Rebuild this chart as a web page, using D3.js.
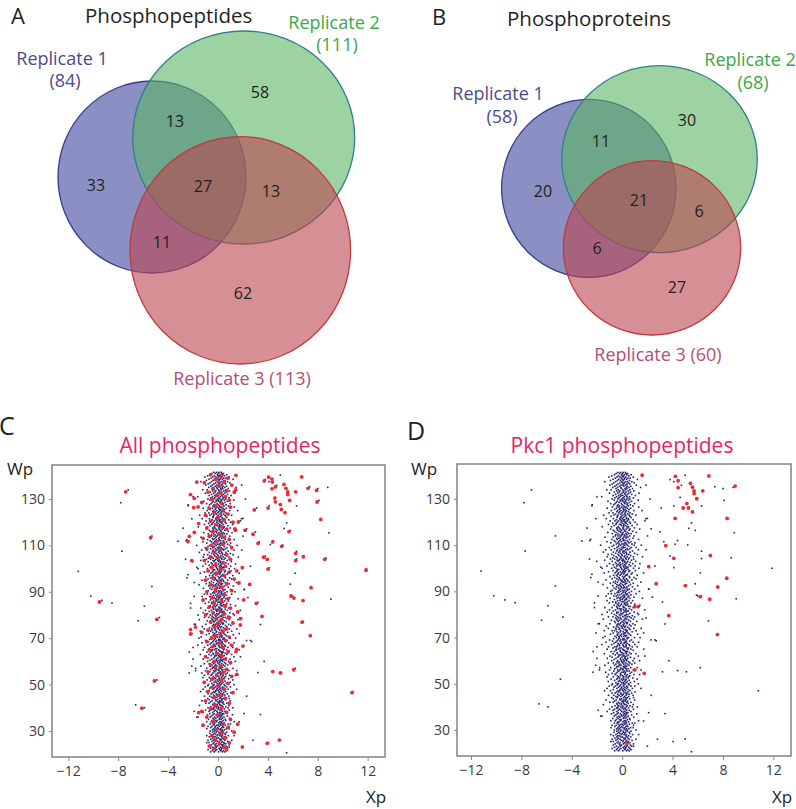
<!DOCTYPE html>
<html><head><meta charset="utf-8">
<script src="https://cdn.jsdelivr.net/npm/d3@7"></script>
<style>body{margin:0;background:#fff}svg{display:block}text{font-family:"Open Sans",sans-serif}</style>
</head><body>
<svg id="fig" width="796" height="809"></svg>
<script>
// ---------------- DATA ----------------
const setNames = ["Replicate 1", "Replicate 2", "Replicate 3"];
const peptideTotals = [84, 111, 113];
const proteinTotals = [58, 68, 60];
const regionKeys = ["1", "2", "3", "12", "13", "23", "123"];
const peptideRegions = [33, 58, 62, 13, 11, 13, 27];
const proteinRegions = [20, 30, 27, 11, 6, 6, 21];

const xTicks = [-12, -8, -4, 0, 4, 8, 12];
const yTicks = [30, 50, 70, 90, 110, 130];

// dense central column of all phosphopeptides: [Wp, [Xp...]]
const columnRows = [
[141.5,[-0.12,0.25,-0.35,0.08]],
[141,[0.31,-0.22,0.02,-0.48,0.44]],
[140.5,[-0.05,0.18,-0.61,0.37,0.71]],
[140,[0.12,-0.29,0.53,-0.83,-0.01]],
[139.5,[-0.41,0.07,0.29,-0.17,0.88,-1.05]],
[139,[0.46,-0.08,-0.55,0.21,0.64]],
[138.5,[-0.27,0.35,0.01,-0.72,0.15,1.21]],
[138,[0.09,-0.38,0.58,-0.14,-0.93]],
[137.5,[-0.51,0.26,-0.03,0.77,0.42,-1.38]],
[137,[0.17,-0.19,0.49,-0.66,0.03,0.95]],
[136.5,[-0.33,0.11,-0.79,0.36,0.6]],
[136,[0.05,-0.46,0.28,-0.09,1.12,-0.98]],
[135.5,[-0.21,0.41,-0.58,0.14,0.69]],
[135,[0.34,-0.11,-0.37,0.55,-0.74,1.46]],
[134.5,[-0.06,0.22,-0.49,0.82,0.38]],
[134,[0.27,-0.31,0.04,-0.87,0.61,-1.22]],
[133.5,[-0.43,0.13,0.47,-0.18,0.92]],
[133,[0.08,-0.24,0.66,-0.62,0.31]],
[132.5,[-0.35,0.19,-0.02,0.53,-1.01,1.34]],
[132,[0.43,-0.14,-0.52,0.24,0.76]],
[131.5,[-0.09,0.32,-0.71,0.05,-0.28,1.05]],
[131,[0.18,-0.44,0.59,-0.16,0.37,-1.62]],
[130.5,[-0.26,0.07,0.45,-0.57,0.89]],
[130,[0.36,-0.03,-0.34,0.16,-0.81,0.62]],
[129.5,[-0.15,0.28,-0.63,0.51,0.02,1.27]],
[129,[0.06,-0.39,0.23,-0.12,0.74,-1.13]],
[128.5,[-0.47,0.15,0.57,-0.25,0.33]],
[128,[0.21,-0.07,-0.56,0.42,-0.91,0.98]],
[127.5,[-0.32,0.39,0.01,-0.68,0.65,-2.38]],
[127,[0.12,-0.21,0.48,-0.4,0.84]],
[126.5,[-0.04,0.3,-0.77,0.19,-0.3,1.31]],
[126,[0.4,-0.17,-0.45,0.07,0.67,-1.19]],
[125.5,[-0.23,0.24,-0.6,0.54,0.11]],
[125,[0.14,-0.36,0.35,-0.1,0.93,-0.86,1.58]],
[124.5,[-0.42,0.06,0.5,-0.2,0.27]],
[124,[0.25,-0.27,-0.02,0.63,-0.73,-1.04]],
[123.5,[-0.13,0.44,-0.52,0.17,0.8]],
[123,[0.03,-0.33,0.29,-0.65,0.56,1.09,-1.47]],
[122.5,[-0.38,0.2,0.61,-0.06,-0.89]],
[122,[0.33,-0.12,-0.41,0.1,0.71]],
[121.5,[-0.19,0.37,-0.69,0.48,0.0,-1.26,1.88]],
[121,[0.09,-0.46,0.22,-0.14,0.87,0.52]],
[120.5,[-0.29,0.13,-0.58,0.4,-0.03,-0.95]],
[120,[0.2,-0.09,0.58,-0.37,1.02,0.29]],
[119.5,[-0.45,0.31,0.04,-0.75,0.66]],
[119,[0.15,-0.22,-0.5,0.43,-0.11,1.18,-1.09]],
[118.5,[-0.06,0.26,-0.64,0.09,0.79]],
[118,[0.38,-0.31,0.12,-0.85,0.5,-1.58]],
[117.5,[-0.24,0.05,0.45,-0.43,0.97]],
[117,[0.11,-0.4,0.33,-0.16,0.63,-0.92,1.39]],
[116.5,[-0.36,0.18,-0.04,0.55,-0.7]],
[116,[0.27,-0.15,-0.61,0.24,0.83,-0.26]],
[115.5,[-0.1,0.42,-0.48,0.07,-1.14,1.12]],
[115,[0.02,-0.34,0.52,-0.78,0.31,0.71]],
[114.5,[-0.5,0.16,0.37,-0.21,-0.01]],
[114,[0.23,-0.08,-0.55,0.6,-0.33,0.94,2.01]],
[113.5,[-0.17,0.35,-0.72,0.13,0.46,-1.36]],
[113,[0.3,-0.26,0.05,-0.44,0.86]],
[112.5,[-0.39,0.1,0.58,-0.12,-0.83,1.3]],
[112,[0.07,-0.2,0.4,-0.63,0.21,-2.57]],
[111.5,[-0.28,0.47,-0.07,-0.52,0.69,-1.2]],
[111,[0.19,-0.35,0.28,-0.9,0.54,1.01]],
[110.5,[-0.02,0.33,-0.46,0.11,-0.24,0.78]],
[110,[0.41,-0.13,-0.67,0.2,0.96,-1.71,1.52]],
[109.5,[-0.31,0.08,0.51,-0.28,-0.8]],
[109,[0.12,-0.42,0.25,-0.05,0.72,1.11,-1.02]],
[108.5,[-0.21,0.39,-0.6,0.03,0.6]],
[108,[0.28,-0.09,-0.38,0.46,-0.88,-1.31,1.29]],
[107.5,[-0.44,0.17,0.08,-0.19,0.82]],
[107,[0.05,-0.27,0.62,-0.7,0.3,-1.49]],
[106.5,[-0.14,0.34,-0.51,0.15,0.99]],
[106,[0.37,-0.04,-0.32,0.53,-0.83,1.21,-1.12]],
[105.5,[-0.25,0.23,-0.66,0.0,0.68]],
[105,[0.16,-0.48,0.4,-0.13,0.89,-1.18,1.62]],
[104.5,[-0.07,0.27,-0.39,0.57,-0.76]],
[104,[0.31,-0.18,0.06,-0.6,0.49,0.91,-0.93]],
[103.5,[-0.4,0.12,-0.02,0.74,-0.26,-1.39]],
[103,[0.22,-0.33,0.44,-0.79,0.05,1.07,-2.02]],
[102.5,[-0.16,0.38,-0.54,0.19,0.63]],
[102,[0.04,-0.23,0.3,-0.47,0.84,-1.0,1.41]],
[101.5,[-0.34,0.2,0.55,-0.11,-0.71]],
[101,[0.26,-0.43,0.09,-0.2,0.67,1.02,-1.21]],
[100.5,[-0.12,0.45,-0.62,0.14,0.36]],
[100,[0.35,-0.06,-0.49,0.23,0.9,-0.84,1.33,-1.59]],
[99.5,[-0.27,0.16,0.48,-0.36,-0.03]],
[99,[0.1,-0.4,0.29,-0.73,0.6,1.04]],
[98.5,[-0.46,0.07,0.53,-0.15,0.21,-1.08]],
[98,[0.18,-0.29,-0.01,0.8,-0.57,-1.42,1.7]],
[97.5,[-0.08,0.41,-0.35,0.12,0.72]],
[97,[0.29,-0.17,-0.68,0.37,-0.45,1.19]],
[96.5,[-0.37,0.03,0.22,-0.97,0.56]],
[96,[0.13,-0.24,0.6,-0.6,0.93,-2.49]],
[95.5,[-0.2,0.32,-0.43,0.09,-0.8,1.1]],
[95,[0.42,-0.1,-0.29,0.2,0.77,-1.29]],
[94.5,[-0.53,0.25,0.44,-0.05,0.01]],
[94,[0.07,-0.37,0.15,-0.69,0.58,1.49]],
[93.5,[-0.11,0.36,-0.55,0.27,0.88,-0.94]],
[93,[0.24,-0.21,0.02,-0.42,0.66,-1.52]],
[92.5,[-0.32,0.09,0.51,-0.17,-0.74,1.23]],
[92,[0.16,-0.45,0.38,-0.08,0.82]],
[91.5,[-0.03,0.29,-0.64,0.13,-0.28,-1.17]],
[91,[0.39,-0.15,-0.5,0.56,0.99,2.12]],
[90.5,[-0.24,0.2,-0.79,0.04,0.45]],
[90,[0.11,-0.33,0.31,-0.12,0.74,1.37,-0.91]],
[89.5,[-0.41,0.06,0.57,-0.26,0.25]],
[89,[0.28,-0.04,-0.58,0.43,-0.86,1.09,-1.1]],
[88.5,[-0.18,0.37,-0.36,0.14,0.69]],
[88,[0.05,-0.47,0.21,-0.67,0.52,-1.27,-1.91]],
[87.5,[-0.3,0.16,0.46,-0.09,0.94]],
[87,[0.33,-0.2,-0.41,0.07,0.62,-0.96,1.61]],
[86.5,[-0.13,0.24,-0.61,0.35,0.0]],
[86,[0.19,-0.35,0.54,-0.16,0.83,-1.2]],
[85.5,[-0.49,0.1,-0.01,0.4,-0.75]],
[85,[0.23,-0.26,0.3,-0.52,0.71,-1.02,-2.2]],
[84.5,[-0.06,0.44,-0.38,0.17,1.0]],
[84,[0.36,-0.12,-0.63,0.26,-0.3,1.4]],
[83.5,[-0.22,0.08,0.5,-0.44,0.64]],
[83,[0.1,-0.39,0.19,-0.8,0.87,-1.38]],
[82.5,[-0.35,0.31,-0.05,0.58,-0.19]],
[82,[0.27,-0.14,-0.53,0.11,0.75,-1.01,1.79]],
[81.5,[-0.09,0.39,-0.7,0.22,0.48]],
[81,[0.14,-0.3,0.33,-0.42,0.95,-1.19]],
[80.5,[-0.43,0.05,0.6,-0.1,-0.84,1.21]],
[80,[0.32,-0.23,-0.03,0.47,-0.62,1.3,-1.6]],
[79.5,[-0.16,0.18,-0.48,0.28,0.8]],
[79,[0.06,-0.37,0.42,-0.73,0.58,-1.09,0.99]],
[78.5,[-0.28,0.26,-0.14,0.71,-0.52]],
[78,[0.2,-0.07,-0.44,0.37,0.89,-1.5,1.6]],
[77.5,[-0.39,0.13,0.52,-0.21,-0.86]],
[77,[0.25,-0.31,0.02,-0.6,0.66,1.16]],
[76.5,[-0.1,0.34,-0.53,0.09,0.43]],
[76,[0.38,-0.17,-0.33,0.18,-0.97,0.86,-1.81]],
[75.5,[-0.24,0.07,0.59,-0.4,1.03]],
[75,[0.12,-0.45,0.27,-0.08,0.7,-1.26]],
[74.5,[-0.32,0.21,-0.68,0.44,0.0]],
[74,[0.03,-0.19,0.55,-0.5,0.92,-1.1,1.51]],
[73.5,[-0.47,0.3,0.14,-0.25,0.63]],
[73,[0.29,-0.11,-0.6,0.4,-0.79,1.1,-1.42]],
[72.5,[-0.15,0.36,-0.41,0.08,0.79]],
[72,[0.17,-0.28,0.47,-0.71,0.24,-2.08]],
[71.5,[-0.36,0.11,-0.05,0.57,-0.93,1.22]],
[71,[0.22,-0.4,0.35,-0.15,0.68]],
[70.5,[-0.05,0.27,-0.57,0.12,-0.26,-1.35]],
[70,[0.41,-0.21,-0.44,0.5,0.98,1.42,-1.52]],
[69.5,[-0.26,0.15,0.39,-0.67,0.05]],
[69,[0.08,-0.34,0.22,-0.11,0.74,-1.0,2.29]],
[68.5,[-0.42,0.33,-0.18,0.61,-0.77]],
[68,[0.18,-0.06,-0.52,0.29,0.87,-1.29,1.3]],
[67.5,[-0.12,0.4,-0.33,0.15,-0.63]],
[67,[0.3,-0.25,0.04,-0.82,0.55,1.0,-1.61]],
[66.5,[-0.38,0.09,0.6,-0.2,0.32]],
[66,[0.14,-0.43,0.26,-0.58,0.8,-1.08,1.19]],
[65.5,[-0.2,0.37,-0.09,0.5,-0.72]],
[65,[0.05,-0.3,0.45,-0.47,0.69,-1.19,1.71]],
[64.5,[-0.49,0.19,0.11,-0.14,0.88]],
[64,[0.26,-0.16,-0.62,0.34,-0.88,0.42]],
[63.5,[-0.07,0.31,-0.4,0.58,0.02]],
[63,[0.33,-0.37,0.13,-0.72,0.71,1.09,-1.41]],
[62.5,[-0.23,0.06,0.5,-0.11,-0.55]],
[62,[0.1,-0.27,0.38,-0.97,0.2,1.28]],
[61.5,[-0.34,0.24,-0.02,0.65,-0.8]],
[61,[0.21,-0.12,-0.49,0.44,0.96,-1.18,-2.0]],
[60.5,[-0.14,0.35,-0.64,0.08,0.28]],
[60,[0.37,-0.05,-0.36,0.17,0.86,-0.83,1.38]],
[59.5,[-0.44,0.14,0.52,-0.23,-0.03]],
[59,[0.04,-0.32,0.29,-0.7,0.61,1.0,-1.1]],
[58.5,[-0.18,0.42,-0.5,0.13,0.77]],
[58,[0.27,-0.24,-0.08,0.54,-0.62,-1.38]],
[57.5,[-0.31,0.1,0.36,-0.4,0.2]],
[57,[0.15,-0.46,0.23,-0.13,0.68,-0.9,1.2,-1.79]],
[56.5,[-0.09,0.3,-0.59,0.48,0.04]],
[56,[0.34,-0.18,-0.35,0.07,0.88,-1.0,1.5]],
[55.5,[-0.27,0.17,0.56,-0.66,0.39]],
[55,[0.09,-0.39,0.26,-0.02,0.75,-1.3,-2.31]],
[54.5,[-0.48,0.22,-0.15,0.63,-0.8]],
[54,[0.2,-0.1,-0.56,0.41,0.93,-1.09,1.39]],
[53.5,[-0.13,0.35,-0.38,0.04,0.6]],
[53,[0.3,-0.28,0.12,-0.7,0.52,-1.2]],
[52.5,[-0.36,0.08,0.47,-0.2,0.85]],
[52,[0.13,-0.43,0.31,-0.06,-0.88,1.19]],
[51.5,[-0.22,0.26,-0.6,0.56,0.02]],
[51,[0.4,-0.14,-0.31,0.18,0.97,-1.1]],
[50.5,[-0.05,0.3,-0.5,0.1,0.66]],
[50,[0.24,-0.37,0.06,-0.77,0.49,1.28,-0.3]],
[49.5,[-0.4,0.15,0.55,-0.12,-0.82]],
[49,[0.1,-0.2,0.37,-0.54,0.7,1.0,-1.02]],
[48.5,[-0.3,0.43,-0.04,0.22,-0.65]],
[48,[0.35,-0.09,-0.42,0.11,0.81,-1.2,1.5]],
[47.5,[-0.17,0.21,-0.7,0.5,0.0]],
[47,[0.07,-0.33,0.28,-0.19,0.62,-0.92,-1.4]],
[46.5,[-0.45,0.12,0.46,-0.28,1.03]],
[46,[0.23,-0.12,-0.55,0.36,-0.8,0.75]],
[45.5,[-0.08,0.38,-0.36,0.08,0.55]],
[45,[0.31,-0.25,0.02,-0.66,0.86,-1.08]],
[44.5,[-0.34,0.19,0.52,-0.1,-0.5]],
[44,[0.12,-0.4,0.27,-0.82,0.9,0.42]],
[43.5,[-0.19,0.33,-0.03,0.6,-0.7]],
[43,[0.27,-0.16,-0.48,0.14,0.99,-1.28]],
[42.5,[-0.02,0.25,-0.6,0.42,0.1]],
[42,[0.38,-0.3,0.07,-0.72,0.7,-0.98]],
[41.5,[-0.43,0.14,0.48,-0.22,-0.05]],
[41,[0.18,-0.08,-0.38,0.3,0.88,-1.49]],
[40.5,[-0.27,0.4,-0.57,0.02,0.63]],
[40,[0.06,-0.36,0.33,-0.12,0.81,-0.8,1.2]],
[39.5,[-0.35,0.2,0.51,-0.44,0.0]],
[39,[0.28,-0.21,-0.6,0.12,0.9,-1.0]],
[38.5,[-0.1,0.36,-0.31,0.56,-0.72]],
[38,[0.15,-0.44,0.23,-0.03,0.7,-1.2]],
[37.5,[-0.31,0.09,-0.66,0.46,0.33]],
[37,[0.36,-0.15,-0.4,0.2,-0.84,1.16]],
[36.5,[-0.06,0.29,-0.51,0.1,0.75]],
[36,[0.22,-0.26,0.48,-0.63,-0.02,-1.6]],
[35.5,[-0.4,0.14,0.36,-0.17,0.92]],
[35,[0.09,-0.32,0.25,-0.75,0.58]],
[34.5,[-0.2,0.42,-0.08,0.62,-0.47]],
[34,[0.3,-0.12,-0.55,0.16,-0.9,1.3]],
[33.5,[-0.33,0.06,0.5,-0.25,0.27]],
[33,[0.17,-0.4,0.34,-0.62,0.8,1.0]],
[32.5,[-0.09,0.23,-0.3,0.58,0.02]],
[32,[0.39,-0.2,-0.48,0.1,-0.8,0.9]],
[31.5,[-0.25,0.31,-0.03,0.45,-0.58]],
[31,[0.05,-0.35,0.22,-0.13,0.67,-0.9,0.88]],
[30.5,[-0.44,0.16,0.53,-0.24,0.34]],
[30,[0.26,-0.1,-0.62,0.38,-0.3,1.1]],
[29.5,[-0.14,0.41,-0.43,0.07,0.7]],
[29,[0.12,-0.28,0.27,-0.66,0.55]],
[28.5,[-0.37,0.2,0.6,-0.18,0.0]],
[28,[0.33,-0.06,-0.5,0.15,0.83,-0.9,1.3]],
[27.5,[-0.21,0.28,-0.34,0.5,-0.7]],
[27,[0.02,-0.42,0.37,-0.1,0.68]],
[26.5,[-0.3,0.13,0.45,-0.58,0.25]],
[26,[0.22,-0.17,-0.38,0.56,-0.8,1.1]],
[25.5,[-0.07,0.35,-0.5,0.1,0.78]],
[25,[0.3,-0.32,0.06,-0.72,0.47,-0.9]],
[24.5,[-0.4,0.18,0.5,-0.15,0.62]],
[24,[0.1,-0.24,0.3,-0.55,0.9,0.4]],
[23.5,[-0.18,0.4,-0.05,0.65,-0.7]],
[23,[0.36,-0.14,-0.45,0.2,0.75,0.9]],
[22.5,[-0.28,0.08,0.52,-0.6,0.3]],
[22,[0.15,-0.38,0.26,-0.1,0.62,-0.8]],
[21.5,[-0.45,0.22,0.44,-0.2,0.7]],
[21,[0.05,-0.3,0.35,-0.6,0.55]]
];

// scattered phosphopeptides away from the column: [Xp, Wp]
const outlierPoints = [
[-7.2,133.9],[-7.8,128.4],[-5.3,114],[-7.7,107.5],[-11.2,98.8],[-2.4,97.4],[-3.2,111.8],
[-5.3,92.3],[-10.2,88.1],[-9.3,86.3],[-8.5,85.1],[-5.9,83.8],[-6.4,77.5],[-4.7,78.9],
[-4.9,52],[-6.6,41.3],[-5.9,40],[-2.8,117.4],[-2.5,112.5],[-2.4,127.1],[-2.1,121.5],
[-2.2,83],[-1.9,76],[-2.0,66],[-2.1,58],[-1.8,56],[-1.9,38.5],[-1.7,36],[-2.3,64],
[-2.6,104],[-1.9,94],[-2.0,131],[-1.7,100.5],
[5.0,140.3],[4.1,137.5],[3.8,138.4],[7.35,135.3],[8.0,134.5],[4.7,135.9],[8.1,129.4],
[4.6,130.7],[6.3,127],[4.1,127],[3.1,126.1],[2.0,121.6],[1.8,120.6],[5.5,119.7],
[2.3,117.1],[3.0,115.8],[5.3,117.3],[5.8,116.4],[8.9,115.4],[3.3,111.5],[4.4,112],
[4.2,110.4],[5.2,110.1],[6.3,107.4],[6.3,104.2],[8.65,104.5],[3.8,105.3],[2.6,101],
[4.1,100.3],[11.9,100],[5.8,93.3],[5.9,88.4],[6.0,88.0],[9.05,86.8],[3.2,85.4],[1.9,78.5],
[3.4,75.9],[6.85,77.2],[2.6,69],[2.7,68.6],[3.7,60],[3.2,55.2],[4.4,55.7],[5.1,55.2],
[6.2,57],[10.8,47],[2.1,37.5],[3.4,37.1],[2.8,26],[4.05,25],[5.0,26.2],[5.5,20.6],
[2.0,23],[1.7,33.9],[8.8,135],[6.2,98],[2.2,130],[1.9,108],[2.1,91],[1.8,62],[2.3,45],
[1.9,136],[2.4,87.5],[1.7,72]
];

// significant phosphopeptides (red in panel C): [Xp, Wp]
const significantPoints = [
[-7.4,133.1],[-5.4,113.3],[-9.5,85.6],[-4.9,78.1],[-5.1,51.6],[-6.1,39.8],
[-1.7,137.3],[-2.2,131.9],[-1.9,130.3],[-1.95,126.3],[-1.6,126.6],[-1.55,119.4],
[-1.9,115.6],[-2.3,113.9],[-2.4,111.6],[-2.1,103.4],[-1.8,74.8],[-2.2,73.7],[-2.2,71.8],[-1.55,37.9],
[1.44,140.2],[1.42,133.9],[4.06,139.4],[4.33,138.6],[4.36,137.3],[3.71,137.8],[4.33,134.4],[4.6,135.2],
[6.71,139.5],[5.29,136.3],[5.45,134.6],[5.59,133.1],[5.59,131.9],[6.23,133.1],[7.22,134.6],[7.91,133.7],
[4.55,130.4],[4.6,128.8],[5.0,127.6],[5.75,129.4],[7.94,128.7],[4.01,126.1],[5.08,125.5],[5.37,124.1],
[2.91,125.3],[8.24,121.2],[1.63,120.1],[1.36,117.1],[2.17,116.5],[2.81,114.8],[5.69,115.9],[3.21,110.9],
[4.39,111.5],[5.11,109.6],[6.23,106.6],[6.23,103.4],[6.84,105.1],[3.66,104.9],[3.95,104],[4.01,99.8],
[8.56,104],[11.87,99.3],[1.95,100.4],[1.5,99],[1.68,93.8],[2.54,93.2],[7.46,91.8],[5.85,88.2],
[6.09,87.3],[6.82,86.2],[2.06,86.5],[3.07,85],[1.58,81.3],[1.79,78.4],[1.79,75.7],[3.53,79.4],
[6.74,76.9],[7.4,71.1],[1.5,65.2],[1.44,64.2],[2.0,66.6],[1.52,54.4],[4.39,55.6],[5.0,55],
[6.07,56.4],[10.75,46.5],[1.58,32.9],[1.95,23.1],[3.95,24.7],[4.92,26.1],
[-0.6,140.5],[0.3,140],[0.8,139],[-0.2,138.5],[0.5,137.5],[-1.1,137],[1.1,136],[0.1,135.5],
[-0.4,134.5],[0.7,133.5],[-0.8,133],[0.2,132.5],[1.3,133],[-0.1,131.5],[0.6,131],[-0.5,130],
[0.9,129.5],[-1.3,128.5],[0.3,128],[-0.2,127],[1.0,126.5],[-0.7,126],[0.4,125],[-0.3,124],
[0.8,123.5],[-1.0,123],[0.0,122],[0.5,121],[-0.6,120.5],[1.2,120],[-0.2,119],[0.3,118],
[-0.9,117.5],[0.7,117],[-0.4,116],[1.4,116.5],[0.1,115],[-0.7,114],[0.5,113.5],[-1.2,113],
[0.9,112.5],[-0.1,111.5],[0.4,110.5],[-0.5,110],[1.1,109],[-0.9,108.5],[0.2,108],[-0.3,107],
[0.7,106],[-0.6,105],[0.0,104.5],[1.0,104],[-1.1,103.5],[0.4,102.5],[-0.2,101.5],[0.6,101],
[-0.5,100.5],[0.2,100],[-0.8,99],[0.9,98.5],[-0.1,98],[0.5,97],[-0.4,96],[1.3,95.5],
[-1.0,95],[0.1,94],[0.7,93.5],[-0.6,93],[0.3,92],[-0.2,91],[1.1,90.5],[-0.9,90],
[0.5,89],[0.0,88],[-0.5,87.5],[0.8,87],[-1.2,86.5],[0.3,86],[-0.3,85],[0.6,84],
[-0.7,83.5],[1.0,83],[0.1,82],[-0.4,81],[0.5,80.5],[-1.0,80],[0.9,79],[-0.1,78.5],
[0.3,78],[-0.6,77],[1.2,76.5],[0.0,76],[-0.3,75],[0.7,74],[-0.8,73.5],[0.4,73],
[-1.3,72.5],[0.2,72],[-0.2,71],[0.9,70.5],[-0.5,70],[0.6,69],[-0.9,68.5],[0.1,68],
[1.1,67],[-0.4,66.5],[0.4,66],[-0.7,65],[0.8,64],[-0.1,63.5],[0.3,62.5],[-1.0,62],
[0.6,61],[-0.3,60],[1.0,59.5],[-0.6,58.5],[0.2,58],[-0.2,57],[0.7,56.5],[-0.8,55.5],
[0.4,55],[-0.1,54],[1.1,53.5],[-0.5,52.5],[0.3,52],[-1.1,51],[0.8,50.5],[0.0,49.5],
[-0.4,48.5],[0.5,48],[-0.8,47],[1.2,46.5],[0.1,45.5],[-0.3,44.5],[0.6,44],[-1.0,43],
[0.9,42],[-0.2,41],[0.3,40],[-0.6,39.5],[-1.3,38.5],[0.7,38],[0.0,37],[-0.9,36],
[1.0,35],[-0.4,34],[0.4,33],[-1.2,32.5],[0.8,31.5],[-0.1,30.5],[0.3,29],[1.3,29.5],
[-0.5,28],[0.6,27],[-0.2,26],[0.9,25],[0.1,24.5],[-0.7,23.5],[0.5,23],[-0.3,22.5],[0.7,22]
];

// Pkc1 phosphopeptides (red in panel D): [Xp, Wp]
const pkc1Points = [
[1.59,140.3],[4.23,139.8],[4.44,137.9],[4.44,134.9],[6.88,140],[8.97,135.6],[5.42,136.8],
[5.58,135.1],[5.71,133.5],[5.71,132.3],[6.4,133.5],[5.92,130.1],[5.13,128],[4.84,126.1],
[5.26,126.1],[5.58,124.4],[4.21,121.6],[8.33,121.6],[3.46,109.8],[4.1,104.3],[7.0,105.5],
[2.11,100.7],[2.7,93.3],[5.02,92.5],[8.3,95.7],[7.59,91.9],[6.21,87.7],[6.95,86.6],
[3.7,79.5],[7.56,71.3],[1.0,83.4],[1.27,83.4],[1.0,56],[1.75,54.5],[0.37,24.2]
];

// ---------------- DRAW ----------------
const svg = d3.select("#fig");
svg.append("rect").attr("width", 796).attr("height", 809).attr("fill", "#fff");

const setColors = {
  fill: ["#3e469d", "#5bb664", "#bb444e"],
  stroke: ["#3a3a90", "#2f7f8c", "#c0393f"],
  label: ["#4d4b8a", "#3aa847", "#b34f76"]
};

function drawVenn(cfg) {
  const g = svg.append("g");
  cfg.ellipses.forEach((e, i) => {
    g.append("ellipse").attr("cx", e[0]).attr("cy", e[1]).attr("rx", e[2]).attr("ry", e[3])
      .attr("fill", setColors.fill[i]).attr("fill-opacity", 0.6)
      .attr("stroke", setColors.stroke[i]).attr("stroke-width", 1.3);
  });
  cfg.regions.forEach((v, i) => {
    const p = cfg.regionPos[regionKeys[i]];
    g.append("text").attr("x", p[0]).attr("y", p[1]).attr("text-anchor", "middle")
      .attr("dominant-baseline", "central").attr("font-size", 16).attr("fill", "#231f20").text(v);
  });
  cfg.totals.forEach((t, i) => {
    const lp = cfg.labelPos[i];
    const tx = g.append("text").attr("font-size", 18).attr("fill", setColors.label[i]).attr("text-anchor", "middle");
    if (lp.length === 2) {
      tx.attr("x", lp[0]).attr("y", lp[1]).text(setNames[i] + " (" + t + ")");
    } else {
      tx.append("tspan").attr("x", lp[0]).attr("y", lp[1]).text(setNames[i]);
      tx.append("tspan").attr("x", lp[2]).attr("y", lp[3]).text("(" + t + ")");
    }
  });
  g.append("text").attr("x", cfg.letter[0]).attr("y", cfg.letter[1]).attr("font-size", 22).attr("fill", "#231f20").text(cfg.letter[2]);
  g.append("text").attr("x", cfg.title[0]).attr("y", cfg.title[1]).attr("font-size", 20.5).attr("fill", "#231f20").text(cfg.title[2]);
}

drawVenn({
  ellipses: [[152, 177, 94, 96], [243.7, 137.5, 111, 106.5], [240.3, 250.3, 110.3, 113.7]],
  regions: peptideRegions,
  regionPos: {"1": [96, 185], "2": [260, 92], "3": [243, 293], "12": [175, 121], "13": [162, 242], "23": [271, 191], "123": [203, 186]},
  totals: peptideTotals,
  labelPos: [[62, 65, 65, 87], [334, 29, 337, 51], [242, 385]],
  letter: [11, 24, "A"],
  title: [85, 23, "Phosphopeptides"]
});
drawVenn({
  ellipses: [[588.8, 188.3, 87.2, 89], [659.5, 159.2, 97.8, 93.5], [652, 247.8, 88.7, 87.2]],
  regions: proteinRegions,
  regionPos: {"1": [543, 191], "2": [687, 120], "3": [677, 287], "12": [601, 141], "13": [597, 248], "23": [699, 211], "123": [639, 200]},
  totals: proteinTotals,
  labelPos: [[498, 100, 502, 123], [750, 66, 753, 89], [658, 361]],
  letter: [432, 25, "B"],
  title: [507, 26, "Phosphoproteins"]
});

function drawScatter(cfg) {
  const g = svg.append("g");
  const x = d3.scaleLinear().domain(cfg.xDomain).range([cfg.left, cfg.right]);
  const y = d3.scaleLinear().domain([cfg.yDomain[0], cfg.yDomain[1]]).range([cfg.bottom, cfg.top]);
  const blue = [];
  columnRows.forEach(r => r[1].forEach(v => blue.push([v, r[0]])));
  outlierPoints.forEach(p => blue.push(p));

  g.append("g").selectAll("rect").data(blue).join("rect")
    .attr("x", d => x(d[0]) - 0.8).attr("y", d => y(d[1]) - 0.8)
    .attr("width", 1.6).attr("height", 1.6).attr("fill", "#24236f");
  g.append("g").selectAll("circle").data(cfg.red).join("circle")
    .attr("cx", d => x(d[0])).attr("cy", d => y(d[1])).attr("r", 1.9).attr("fill", "#ec2a33");

  g.append("rect").attr("x", cfg.left).attr("y", cfg.top).attr("width", cfg.right - cfg.left)
    .attr("height", cfg.bottom - cfg.top).attr("fill", "none").attr("stroke", "#8a8a8a").attr("stroke-width", 1.6);

  const ax = g.append("g").attr("transform", `translate(0,${cfg.bottom})`)
    .call(d3.axisBottom(x).tickValues(xTicks).tickSize(4).tickPadding(5));
  const ay = g.append("g").attr("transform", `translate(${cfg.left},0)`)
    .call(d3.axisLeft(y).tickValues(yTicks).tickSize(3).tickPadding(4));
  [ax, ay].forEach(a => {
    a.select(".domain").remove();
    a.selectAll("line").attr("stroke", "#8a8a8a");
    a.selectAll("text").attr("font-size", 14).attr("fill", "#3a3a3a").attr("font-family", "Open Sans, sans-serif");
  });

  g.append("text").attr("x", cfg.letter[0]).attr("y", cfg.letter[1]).attr("font-size", 25).attr("fill", "#231f20").text(cfg.letter[2]);
  g.append("text").attr("x", cfg.titleX).attr("y", 453).attr("text-anchor", "middle").attr("font-size", 21)
    .attr("fill", "#e5265e").text(cfg.title);
  g.append("text").attr("x", cfg.wp).attr("y", 475).attr("font-size", 17).attr("fill", "#231f20").text("Wp");
  g.append("text").attr("x", cfg.right - 19).attr("y", 803).attr("font-size", 17).attr("fill", "#231f20").text("Xp");
}

drawScatter({
  left: 52, right: 385, top: 465, bottom: 757,
  xDomain: [-13.31, 13.39], yDomain: [18.79, 144.66],
  red: significantPoints, letter: [-1, 435, "C"], title: "All phosphopeptides", titleX: 220, wp: 7
});
drawScatter({
  left: 457, right: 791, top: 464, bottom: 756,
  xDomain: [-13.11, 13.40], yDomain: [18.74, 145.15],
  red: pkc1Points, letter: [407, 440, "D"], title: "Pkc1 phosphopeptides", titleX: 622, wp: 411
});
</script>
</body></html>
